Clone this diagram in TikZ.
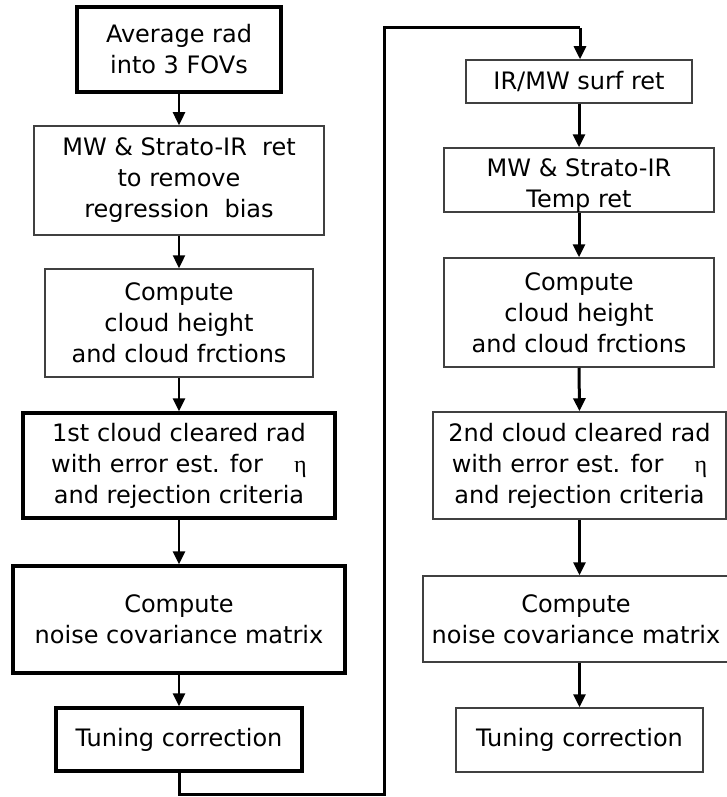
\documentclass[tikz,border=0pt]{standalone}
\usepackage{fontspec}
\setmainfont{DejaVu Sans}
\newfontfamily\etafont{Liberation Serif}
\usetikzlibrary{arrows.meta}
\begin{document}
\begin{tikzpicture}[x=1pt,y=-1pt,
  box/.style={draw=black!75, line width=1.5pt, rectangle, inner sep=0pt, align=center,
    font=\fontsize{24}{31}\selectfont},
  thickbox/.style={box, draw=black, line width=3.4pt},
  txt/.style={inner sep=0pt, align=center, font=\fontsize{24}{31}\selectfont},
  arr/.style={line width=2.4pt, -{Triangle[length=13pt,width=12pt]}},
  arrR/.style={line width=3pt, -{Triangle[length=13pt,width=12pt]}},
  conn/.style={line width=3pt}]
\useasboundingbox (0,0) rectangle (727,797);
% left column
\node[thickbox, minimum width=204pt, minimum height=85pt] (b1) at (179,49.5) {Average rad\\into 3 FOVs};
\node[box, minimum width=290pt, minimum height=109pt] (b2) at (179,180.5) {MW \& Strato-IR\ \ ret\\to remove\\regression\ \ bias};
\node[box, minimum width=268pt, minimum height=108pt] (b3) at (179,323) {Compute\\cloud height\\and cloud frctions};
\node[thickbox, minimum width=312pt, minimum height=105pt] (b4) at (179,465.5) {1st cloud cleared rad\\with error est. for\hspace{1.3em}{\etafont η}\\and rejection criteria};
\node[thickbox, minimum width=332pt, minimum height=107pt] (b5) at (179,619.5) {Compute\\noise covariance matrix};
\node[thickbox, minimum width=246pt, minimum height=63pt] (b6) at (179,739.5) {Tuning correction};
% right column
\node[box, minimum width=226pt, minimum height=43pt] (b7) at (579,81.5) {IR/MW surf ret};
\node[box, minimum width=270pt, minimum height=64pt] (b8) at (579,180) {};
\node[txt] (t8) at (579,186) {MW \& Strato-IR\\Temp ret};
\node[box, minimum width=270pt, minimum height=109pt] (b9) at (579,312.5) {Compute\\cloud height\\and cloud frctions};
\node[box, minimum width=293pt, minimum height=107pt] (b10) at (579.5,465.5) {2nd cloud cleared rad\\with error est. for\hspace{1.3em}{\etafont η}\\and rejection criteria};
\node[box, minimum width=306pt, minimum height=86pt] (b11) at (576,619) {Compute\\noise covariance matrix};
\node[box, minimum width=247pt, minimum height=64pt] (b12) at (579.5,740) {Tuning correction};
% connectors
\draw[arr] (b1.south) -- (b2.north);
\draw[arr] (b2.south) -- (b3.north);
\draw[arr] (b3.south) -- (b4.north);
\draw[arr] (b4.south) -- (b5.north);
\draw[arr] (b5.south) -- (b6.north);
\coordinate (c1) at (179,794);
\coordinate (c2) at (384,794);
\coordinate (c3) at (384,28);
\coordinate (c4) at (580,28);
\draw[conn] (b6.south) -- (c1) -- (c2) -- (c3) -- (c4);
\draw[arrR] (c4) -- (580,0 |- b7.north);
\draw[arrR] (b7.south) -- (b8.north);
\draw[arrR] (b8.south) -- (b9.north);
\draw[arrR] (b9.south) -- (b10.north);
\draw[arrR] (b10.south) -- (b10.south |- b11.north);
\draw[arrR] (b10.south |- b11.south) -- (b12.north);
\end{tikzpicture}
\end{document}
